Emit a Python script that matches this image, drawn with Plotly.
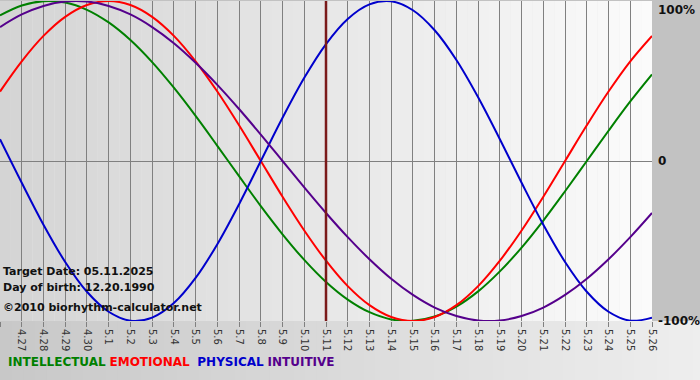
import plotly.graph_objects as go

days = ["4.26", "4.27", "4.28", "4.29", "4.30", "5.1", "5.2", "5.3", "5.4", "5.5", "5.6",
        "5.7", "5.8", "5.9", "5.10", "5.11", "5.12", "5.13", "5.14", "5.15", "5.16", "5.17",
        "5.18", "5.19", "5.20", "5.21", "5.22", "5.23", "5.24", "5.25", "5.26"]

intellectual = [0.910, 0.972, 0.999, 0.990, 0.945, 0.866, 0.756, 0.618, 0.458, 0.282, 0.095,
                -0.095, -0.282, -0.458, -0.618, -0.756, -0.866, -0.945, -0.990, -0.999, -0.972,
                -0.910, -0.815, -0.690, -0.541, -0.372, -0.189, 0.0, 0.189, 0.372, 0.541]
emotional = [0.434, 0.623, 0.782, 0.901, 0.975, 1.0, 0.975, 0.901, 0.782, 0.623, 0.434,
             0.223, 0.0, -0.223, -0.434, -0.623, -0.782, -0.901, -0.975, -1.0, -0.975,
             -0.901, -0.782, -0.623, -0.434, -0.223, 0.0, 0.223, 0.434, 0.623, 0.782]
physical = [0.136, -0.136, -0.398, -0.631, -0.817, -0.942, -0.998, -0.979, -0.888, -0.731, -0.520,
            -0.270, 0.0, 0.270, 0.520, 0.731, 0.888, 0.979, 0.998, 0.942, 0.817,
            0.631, 0.398, 0.136, -0.136, -0.398, -0.631, -0.817, -0.942, -0.998, -0.979]
intuitive = [0.837, 0.916, 0.969, 0.997, 0.997, 0.969, 0.916, 0.837, 0.736, 0.614, 0.476,
             0.325, 0.165, 0.0, -0.165, -0.325, -0.476, -0.614, -0.736, -0.837, -0.916,
             -0.969, -0.997, -0.997, -0.969, -0.916, -0.837, -0.736, -0.614, -0.476, -0.325]

target_label = "5.11"
y_ticks = [-1, 0, 1]
y_labels = ["-100%", "0", "100%"]

x = list(range(len(days)))
target_idx = days.index(target_label)

series = [
    ("INTELLECTUAL", intellectual, "#008000"),
    ("EMOTIONAL", emotional, "#ff0000"),
    ("PHYSICAL", physical, "#0000cc"),
    ("INTUITIVE", intuitive, "#55008c"),
]

fig = go.Figure()
for name, vals, col in series:
    fig.add_trace(go.Scatter(x=x, y=vals, mode="lines", name=name,
                             line=dict(color=col, width=2, shape="spline"),
                             hoverinfo="skip", showlegend=False))


def lerp(c1, c2, t):
    return "rgb(%d,%d,%d)" % tuple(round(a + (b - a) * t) for a, b in zip(c1, c2))


shapes = []
n = 60
span = x[-1] - x[0]
for i in range(n):
    t = i / (n - 1)
    shapes.append(dict(type="rect", layer="below", xref="x", yref="y",
                       x0=x[0] + span * i / n, x1=x[0] + span * (i + 1) / n,
                       y0=-1, y1=1, line=dict(width=0),
                       fillcolor=lerp((212, 212, 212), (251, 251, 251), t)))
# bottom strip gradient
for i in range(n):
    t = i / (n - 1)
    shapes.append(dict(type="rect", layer="below", xref="paper", yref="paper",
                       x0=1.08 * i / n, x1=1.08 * (i + 1) / n + 0.002,
                       y0=-0.2, y1=0, line=dict(width=0),
                       fillcolor=lerp((200, 200, 200), (238, 238, 238), t)))
# target date marker
shapes.append(dict(type="line", xref="x", yref="y", x0=target_idx, x1=target_idx,
                   y0=-1, y1=1, line=dict(color="#7a1a1a", width=2.5)))

annotations = []
for v, lab in zip(y_ticks, y_labels):
    annotations.append(dict(xref="paper", yref="y", x=1, y=v, xanchor="left",
                            yanchor="top" if v == 1 else "middle", xshift=4,
                            text="<b>%s</b>" % lab, showarrow=False,
                            font=dict(family="DejaVu Sans", size=12, color="#111")))

info_font = dict(family="DejaVu Sans", size=11, color="#111")
annotations += [
    dict(xref="paper", yref="paper", x=0, y=(320 - 270) / 320, xanchor="left", yanchor="middle",
         xshift=1, text="<b>Target Date: 05.11.2025</b>", showarrow=False, font=info_font),
    dict(xref="paper", yref="paper", x=0, y=(320 - 286) / 320, xanchor="left", yanchor="middle",
         xshift=1, text="<b>Day of birth: 12.20.1990</b>", showarrow=False, font=info_font),
    dict(xref="paper", yref="paper", x=0, y=(320 - 306) / 320, xanchor="left", yanchor="middle",
         xshift=1, text="<b>©2010 biorhythm-calculator.net</b>", showarrow=False,
         font=dict(family="DejaVu Sans", size=11, color="#111")),
]
legend_text = '<span style="color:%s"><b>%s</b></span>&nbsp;' % (series[0][2], series[0][0])
legend_text += '<span style="color:%s"><b>%s</b></span>&nbsp;&nbsp;' % (series[1][2], series[1][0])
legend_text += '<span style="color:%s"><b>%s</b></span>&nbsp;' % (series[2][2], series[2][0])
legend_text += '<span style="color:%s"><b>%s</b></span>' % (series[3][2], series[3][0])
annotations.append(dict(xref="paper", yref="paper", x=0, y=-(361 - 320) / 320, xanchor="left",
                        yanchor="middle", xshift=6, text=legend_text, showarrow=False,
                        font=dict(family="DejaVu Sans", size=12)))

fig.update_layout(
    width=700, height=380,
    margin=dict(l=0, r=48, t=1, b=59, autoexpand=False),
    paper_bgcolor="#c2c2c2",
    plot_bgcolor="#e8e8e8",
    shapes=shapes,
    annotations=annotations,
    xaxis=dict(range=[x[0], x[-1]], tickvals=x, ticktext=days, tickangle=90,
               showgrid=True, gridcolor="#808080", gridwidth=1,
               ticks="outside", ticklen=5, tickcolor="#808080",
               tickfont=dict(family="DejaVu Sans", size=10, color="#333"),
               zeroline=False, automargin=False, fixedrange=True),
    yaxis=dict(range=[-1, 1], tickvals=y_ticks, showticklabels=False,
               showgrid=True, gridcolor="#808080", gridwidth=1,
               zeroline=False, automargin=False, fixedrange=True),
    hovermode=False,
)

fig.write_html("out.html", config={"displayModeBar": False},
               post_script="document.body.style.margin='0';document.body.style.overflow='hidden';")
